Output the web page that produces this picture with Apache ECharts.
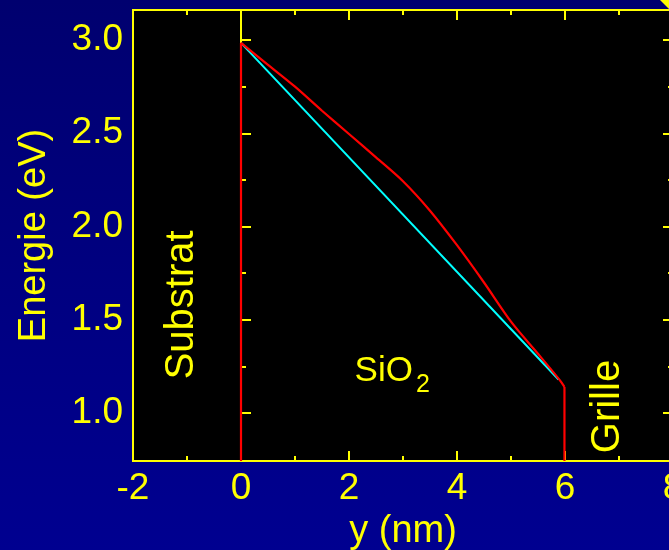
<!DOCTYPE html>
<html>
<head>
<meta charset="utf-8">
<script src="https://cdn.jsdelivr.net/npm/echarts@6/dist/echarts.min.js"></script>
<style>
html,body{margin:0;padding:0;width:669px;height:550px;overflow:hidden;
background:linear-gradient(to bottom,#00006f 0%,#000080 50%,#000090 100%);}
#c{width:669px;height:550px;}
</style>
</head>
<body>
<div id="c"></div>
<script>
// ---- data ----
var xRange = [-2, 8];
var yRange = [0.743, 3.161];
var yMajorTicks = [1.0, 1.5, 2.0, 2.5, 3.0];
var yMinorTicks = [1.25, 1.75, 2.25, 2.75];

// red: real barrier profile inside the oxide
var redX = [0, 0.5, 1.0, 1.5, 2.0, 2.5, 3.0, 3.5, 4.0, 4.5, 5.0, 5.5, 5.9, 5.99];
var redE = [2.985, 2.867, 2.75, 2.621, 2.496, 2.371, 2.243, 2.085, 1.90, 1.70, 1.49, 1.318, 1.178, 1.14];
// red: vertical walls at the interfaces
var wallLeftX = [0, 0];
var wallLeftE = [0.743, 2.985];
var wallRightX = [5.99, 5.99];
var wallRightE = [1.14, 0.743];

// cyan: ideal linear barrier
var cyanX = [0, 5.88];
var cyanE = [2.985, 1.18];

// region labels
var regionNames = ['Substrat', 'SiO2', 'Grille'];
var regionX = [-1.1, 2.8, 6.79];
var regionE = [1.58, 1.235, 1.035];

function zip(a, b) { return a.map(function (v, i) { return [v, b[i]]; }); }

var YEL = '#ffff00';
var RED = '#ff0000';
var FONT = 'Liberation Sans, Arial, sans-serif';

var chart = echarts.init(document.getElementById('c'), null, {renderer: 'canvas'});

var baseXAxis = {
  type: 'value', min: xRange[0], max: xRange[1], interval: 2,
  axisLine: {show: true, lineStyle: {color: YEL, width: 2}},
  axisTick: {show: true, inside: true, length: 10, lineStyle: {color: YEL, width: 2}},
  minorTick: {show: true, splitNumber: 2, length: 5, lineStyle: {color: YEL, width: 2}},
  splitLine: {show: false}
};

function yAxisDef(pos, ticks, len, showLabel, name) {
  return {
    type: 'value', position: pos, min: yRange[0], max: yRange[1],
    name: name || '', nameLocation: 'middle', nameGap: 79,
    nameTextStyle: {color: YEL, fontSize: 38, fontFamily: FONT},
    axisLine: {show: true, lineStyle: {color: YEL, width: 2}},
    axisTick: {show: true, inside: true, length: len, customValues: ticks, lineStyle: {color: YEL, width: 2}},
    axisLabel: {show: showLabel, customValues: yMajorTicks, color: YEL, fontSize: 37, fontFamily: FONT, margin: 10,
      formatter: function (v) { return v.toFixed(1); }},
    splitLine: {show: false}
  };
}

var labelData = regionNames.map(function (n, i) { return {name: n, value: [regionX[i], regionE[i]]}; });

function redLine(data, smooth) {
  return {type: 'line', data: data, symbol: 'none', smooth: smooth,
    lineStyle: {color: RED, width: 2.2}, clip: true, z: 3};
}

var option = {
  backgroundColor: 'transparent',
  animation: false,
  grid: {left: 133, top: 10, width: 540, height: 451, outerBoundsMode: 'none', containLabel: false,
    show: true, backgroundColor: '#000000', borderColor: YEL, borderWidth: 2},
  xAxis: [
    Object.assign({}, baseXAxis, {
      position: 'bottom', name: 'y (nm)', nameLocation: 'middle', nameGap: 52,
      nameTextStyle: {color: YEL, fontSize: 38, fontFamily: FONT},
      axisLabel: {show: true, color: YEL, fontSize: 37, fontFamily: FONT, margin: 9}
    }),
    Object.assign({}, baseXAxis, {position: 'top', axisLabel: {show: false}})
  ],
  yAxis: [
    yAxisDef('left', yMajorTicks, 10, true, 'Energie (eV)'),
    yAxisDef('left', yMinorTicks, 5, false),
    yAxisDef('right', yMajorTicks, 10, false),
    yAxisDef('right', yMinorTicks, 5, false)
  ],
  series: [
    {type: 'line', data: zip(cyanX, cyanE), symbol: 'none', lineStyle: {color: '#00ffff', width: 2}, clip: true, z: 2},
    redLine(zip(redX, redE), 0.3),
    redLine(zip(wallLeftX, wallLeftE), false),
    redLine(zip(wallRightX, wallRightE), false),
    {type: 'scatter', data: labelData, symbolSize: 0, silent: true, z: 4,
      itemStyle: {opacity: 1},
      label: {show: true, position: 'inside', color: YEL, opacity: 1, fontFamily: FONT,
        formatter: function (p) { return p.name === 'SiO2' ? '{a|SiO}{b|2}' : '{c|' + p.name + '}'; },
        rich: {
          a: {fontSize: 35, color: YEL, fontFamily: FONT, verticalAlign: 'bottom', lineHeight: 40},
          b: {fontSize: 25, color: YEL, fontFamily: FONT, verticalAlign: 'bottom', lineHeight: 40, padding: [0, 0, -8, 3]},
          c: {fontSize: 40, color: YEL, fontFamily: FONT}
        }
      },
      labelLayout: function (p) {
        if (p.dataIndex === 1) return {};
        return {rotate: 90};
      }
    }
  ],
  graphic: [
    {type: 'polygon', shape: {points: [[660, 0], [669, 0], [669, 9]]}, style: {fill: YEL}}
  ]
};
chart.setOption(option);
</script>
</body>
</html>
